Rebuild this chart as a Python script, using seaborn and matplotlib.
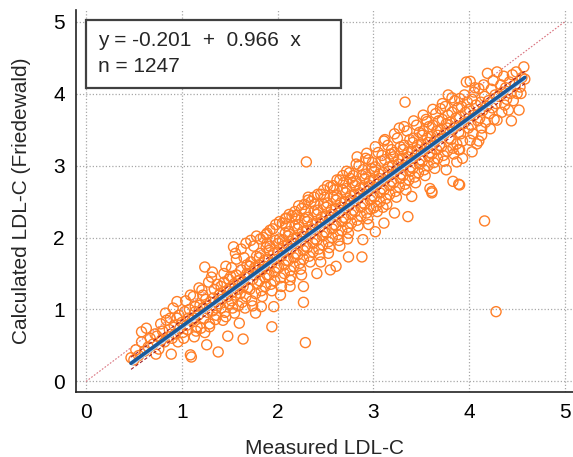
import matplotlib
matplotlib.use("Agg")
import matplotlib.pyplot as plt
import seaborn as sns
import numpy as np
import pandas as pd
from matplotlib.patches import Rectangle
from matplotlib.ticker import MultipleLocator

# ---- data ----
intercept = -0.201
slope = 0.966
n_label = 1247
ticks = [0, 1, 2, 3, 4, 5]
x_label = "Measured LDL-C"
y_label = "Calculated LDL-C (Friedewald)"

points_low = [
    (0.47,0.33),(0.50,0.30),(0.52,0.44),(0.55,0.36),(0.58,0.69),(0.58,0.55),(0.63,0.74),(0.61,0.42),(0.65,0.48),(0.67,0.60),
    (0.70,0.52),(0.72,0.66),(0.74,0.63),(0.76,0.45),(0.78,0.80),(0.73,0.38),(0.79,0.58),
    (0.80,0.70),(0.82,0.55),(0.84,0.85),(0.86,0.62),(0.88,0.88),(0.89,0.38),(0.83,0.95),(0.87,0.72),
    (0.90,0.60),(0.92,0.78),(0.95,1.11),(0.95,0.88),(0.93,0.66),(0.97,0.92),(0.98,0.74),(0.91,1.02),(0.96,0.55),
    (1.00,0.82),(1.03,0.97),(1.06,0.72),(1.01,0.68),(1.04,1.12),(1.07,0.88),(1.09,0.37),(1.02,0.60),(1.08,1.00),(1.05,0.78),(1.09,1.20),
    (1.10,0.34),(1.14,0.97),(1.13,0.62),(1.14,1.04),(1.11,0.85),(1.16,0.76),(1.12,1.18),(1.17,0.92),(1.18,1.30),(1.15,0.70),(1.19,1.06),(1.13,0.88),
    (1.24,1.59),(1.21,1.27),(1.26,0.51),(1.20,0.74),(1.22,1.02),(1.23,0.88),(1.25,1.14),(1.27,0.96),(1.28,1.38),(1.29,0.80),(1.22,1.20),(1.26,1.05),(1.24,0.68),
    (1.30,1.10),(1.29,0.76),(1.32,0.98),(1.34,1.28),(1.31,1.45),(1.35,0.86),(1.33,1.16),(1.36,1.02),(1.38,0.41),(1.37,1.35),(1.39,1.20),(1.36,0.92),(1.32,1.52),(1.38,1.08),
    (1.43,0.85),(1.48,0.63),(1.40,1.22),(1.41,1.02),(1.44,1.38),(1.42,1.14),(1.45,0.96),(1.46,1.60),(1.47,1.26),(1.49,1.08),(1.44,1.50),(1.48,1.18),(1.41,1.32),(1.46,0.90),(1.49,1.42),
]

points_mid = [
    (1.54,1.87),(1.50,1.30),(1.52,1.12),(1.51,1.46),(1.53,1.02),(1.55,1.36),(1.56,1.20),(1.57,1.70),(1.58,1.28),(1.59,1.05),(1.52,1.58),(1.55,0.95),(1.57,1.48),(1.59,1.40),(1.53,1.24),(1.56,1.78),
    (1.64,0.59),(1.60,0.81),(1.60,1.40),(1.61,1.22),(1.62,1.55),(1.63,1.10),(1.64,1.32),(1.65,1.72),(1.66,1.45),(1.67,1.18),(1.68,1.62),(1.69,1.30),(1.62,1.84),(1.66,1.02),(1.68,1.50),(1.63,1.38),(1.67,1.92),
    (1.70,1.50),(1.71,1.28),(1.72,1.66),(1.73,1.12),(1.74,1.42),(1.75,1.88),(1.76,1.58),(1.77,1.22),(1.78,1.74),(1.79,1.36),(1.72,1.96),(1.74,1.05),(1.76,1.48),(1.78,2.02),(1.71,1.60),(1.77,0.95),(1.79,1.54),
    (1.83,1.04),(1.80,1.62),(1.81,1.40),(1.82,1.78),(1.83,1.26),(1.84,1.55),(1.85,2.00),(1.86,1.68),(1.87,1.32),(1.88,1.86),(1.89,1.48),(1.82,1.98),(1.84,1.18),(1.86,1.60),(1.88,2.04),(1.81,1.72),(1.87,1.44),(1.89,1.92),
    (1.89,2.06),(1.94,0.76),(1.96,1.04),(1.90,1.70),(1.91,1.48),(1.92,1.88),(1.93,1.35),(1.94,1.64),(1.95,2.12),(1.96,1.78),(1.97,1.40),(1.98,1.96),(1.99,1.58),(1.92,2.10),(1.94,1.26),(1.96,1.70),(1.98,2.18),(1.91,1.82),(1.97,1.52),
    (2.00,1.80),(2.01,1.58),(2.02,1.98),(2.03,1.44),(2.04,1.74),(2.05,2.20),(2.06,1.88),(2.07,1.50),(2.08,2.06),(2.09,1.68),(2.02,2.22),(2.04,1.32),(2.06,1.80),(2.08,2.26),(2.01,1.92),(2.07,1.62),(2.09,2.16),(2.03,1.20),(2.05,1.96),
    (2.09,2.27),(2.13,1.32),(2.13,1.41),(2.10,1.90),(2.11,1.68),(2.12,2.08),(2.13,1.54),(2.14,1.84),(2.15,2.30),(2.16,1.98),(2.17,1.60),(2.18,2.16),(2.19,1.78),(2.12,2.32),(2.14,1.46),(2.16,1.92),(2.18,2.36),(2.11,2.02),(2.17,1.72),(2.19,2.26),
    (2.20,2.31),(2.20,2.00),(2.21,1.76),(2.22,2.18),(2.23,1.64),(2.24,1.94),(2.25,2.40),(2.26,2.08),(2.27,1.70),(2.28,2.26),(2.29,1.88),(2.22,2.44),(2.24,1.56),(2.26,2.02),(2.28,2.46),(2.21,2.12),(2.27,1.82),(2.29,2.36),(2.25,1.48),
    (2.30,3.05),(2.29,0.54),(2.27,1.10),(2.27,1.32),(2.32,2.56),(2.30,2.10),(2.31,1.86),(2.32,2.28),(2.33,1.74),(2.34,2.04),(2.35,2.50),(2.36,2.18),(2.37,1.80),(2.38,2.36),(2.39,1.98),(2.32,2.52),(2.34,1.66),(2.36,2.12),(2.38,2.56),(2.31,2.22),(2.37,1.92),(2.39,2.46),
    (2.41,1.50),(2.40,2.20),(2.41,1.96),(2.42,2.38),(2.43,1.84),(2.44,2.14),(2.45,2.60),(2.46,2.28),(2.47,1.90),(2.48,2.46),(2.49,2.08),(2.42,2.60),(2.44,1.76),(2.46,2.22),(2.48,2.66),(2.41,2.32),(2.47,2.02),(2.49,2.56),(2.45,1.66),
    (2.55,1.55),(2.58,2.72),(2.50,2.30),(2.51,2.06),(2.52,2.48),(2.53,1.94),(2.54,2.24),(2.55,2.70),(2.56,2.38),(2.57,2.00),(2.58,2.56),(2.59,2.18),(2.52,2.72),(2.54,1.86),(2.56,2.32),(2.51,2.42),(2.57,2.12),(2.59,2.66),(2.53,1.78),
    (2.61,1.60),(2.60,2.40),(2.61,2.16),(2.62,2.58),(2.63,2.04),(2.64,2.34),(2.65,2.80),(2.66,2.48),(2.67,2.10),(2.68,2.66),(2.69,2.28),(2.62,2.80),(2.64,1.96),(2.66,2.42),(2.68,2.86),(2.61,2.52),(2.67,2.22),(2.69,2.76),(2.65,1.88),
    (2.74,1.73),(2.76,2.82),(2.70,2.50),(2.71,2.26),(2.72,2.68),(2.73,2.14),(2.74,2.44),(2.75,2.90),(2.76,2.58),(2.77,2.20),(2.78,2.76),(2.79,2.38),(2.72,2.92),(2.74,2.06),(2.76,2.52),(2.71,2.62),(2.77,2.32),(2.79,2.86),(2.73,1.98),
    (2.83,3.12),(2.88,1.73),(2.89,1.97),(2.80,2.60),(2.81,2.36),(2.82,2.78),(2.83,2.24),(2.84,2.54),(2.85,3.00),(2.86,2.68),(2.87,2.30),(2.88,2.86),(2.89,2.48),(2.82,3.02),(2.84,2.16),(2.86,2.62),(2.81,2.72),(2.87,2.42),(2.89,2.94),
    (2.93,3.17),(2.90,2.70),(2.91,2.46),(2.92,2.88),(2.93,2.34),(2.94,2.64),(2.95,3.08),(2.96,2.78),(2.97,2.40),(2.98,2.96),(2.99,2.58),(2.92,3.10),(2.94,2.26),(2.96,2.72),(2.91,2.82),(2.97,2.52),(2.99,3.04),(2.95,2.18),
]

points_high = [
    (3.02,2.08),(3.00,2.41),(3.00,2.80),(3.01,2.56),(3.02,2.98),(3.03,2.44),(3.04,2.74),(3.05,3.18),(3.06,2.88),(3.07,2.50),(3.08,3.06),(3.09,2.68),(3.02,3.26),(3.04,2.36),(3.06,2.82),(3.01,2.92),(3.07,2.62),(3.09,3.14),
    (3.10,2.42),(3.11,2.20),(3.11,3.34),(3.10,2.90),(3.11,2.66),(3.12,3.08),(3.13,2.54),(3.14,2.84),(3.15,3.28),(3.16,2.98),(3.17,2.60),(3.18,3.16),(3.19,2.78),(3.12,3.36),(3.14,2.46),(3.16,2.92),(3.17,2.72),(3.19,3.22),
    (3.22,2.34),(3.27,3.52),(3.20,3.00),(3.21,2.76),(3.22,3.18),(3.23,2.64),(3.24,2.94),(3.25,3.38),(3.26,3.08),(3.27,2.70),(3.28,3.26),(3.29,2.88),(3.22,3.44),(3.24,2.56),(3.26,3.02),(3.21,3.12),(3.28,2.82),
    (3.33,3.88),(3.36,2.29),(3.30,3.10),(3.31,2.86),(3.32,3.28),(3.33,2.74),(3.34,3.04),(3.35,3.48),(3.36,3.18),(3.37,2.80),(3.38,3.36),(3.39,2.98),(3.32,3.54),(3.34,2.66),(3.36,3.12),(3.31,3.22),(3.38,2.92),
    (3.40,2.57),(3.40,3.20),(3.41,2.96),(3.42,3.38),(3.43,2.84),(3.44,3.14),(3.45,3.56),(3.46,3.28),(3.47,2.90),(3.48,3.46),(3.49,3.08),(3.42,3.62),(3.44,2.76),(3.46,3.22),(3.41,3.32),(3.48,3.02),
    (3.56,3.61),(3.50,3.30),(3.51,3.06),(3.52,3.48),(3.53,2.94),(3.54,3.24),(3.55,3.64),(3.56,3.38),(3.57,3.00),(3.58,3.54),(3.59,3.18),(3.52,3.70),(3.54,2.86),(3.57,3.32),(3.51,3.42),(3.58,3.12),
    (3.59,2.68),(3.61,2.62),(3.61,2.64),(3.60,3.40),(3.61,3.16),(3.62,3.56),(3.63,3.04),(3.64,3.34),(3.65,3.72),(3.66,3.48),(3.67,3.10),(3.68,3.62),(3.69,3.28),(3.62,3.78),(3.64,2.96),(3.67,3.42),(3.66,3.22),
    (3.70,3.79),(3.76,2.94),(3.70,3.50),(3.71,3.26),(3.72,3.64),(3.73,3.14),(3.74,3.44),(3.75,3.82),(3.76,3.58),(3.77,3.20),(3.78,3.70),(3.79,3.38),(3.72,3.86),(3.74,3.06),(3.77,3.52),(3.78,3.98),
    (3.83,2.78),(3.80,3.60),(3.81,3.36),(3.82,3.74),(3.83,3.24),(3.84,3.52),(3.85,3.90),(3.86,3.66),(3.87,3.30),(3.88,3.80),(3.89,3.46),(3.82,3.94),(3.84,3.16),(3.87,3.05),(3.89,3.22),
    (3.90,3.93),(3.90,2.73),(3.89,2.74),(3.90,3.22),(3.90,3.68),(3.91,3.44),(3.92,3.82),(3.93,3.34),(3.94,3.58),(3.95,3.98),(3.96,3.74),(3.97,4.16),(3.98,3.88),(3.99,3.52),(3.93,3.10),
    (4.01,4.17),(4.01,3.35),(4.03,3.19),(4.00,3.78),(4.02,3.56),(4.03,3.92),(4.04,3.44),(4.05,3.70),(4.06,4.08),(4.07,3.84),(4.08,3.30),(4.09,3.62),(4.05,4.02),
    (4.10,3.34),(4.10,4.07),(4.16,2.23),(4.11,3.66),(4.12,3.88),(4.13,3.52),(4.14,3.76),(4.15,4.12),(4.16,3.96),(4.17,3.60),(4.18,3.82),(4.19,4.28),(4.13,3.42),
    (4.22,3.51),(4.20,3.90),(4.21,3.72),(4.23,4.06),(4.24,3.80),(4.25,4.18),(4.26,3.64),(4.27,3.98),(4.28,0.97),(4.29,4.30),(4.29,3.63),(4.28,3.86),
    (4.31,3.96),(4.33,4.12),(4.34,3.74),(4.35,4.02),(4.36,4.24),(4.37,3.84),(4.38,4.08),(4.39,3.92),
    (4.41,3.77),(4.44,3.62),(4.42,4.16),(4.43,4.00),(4.45,4.26),(4.46,3.90),(4.48,4.12),(4.50,4.00),(4.49,4.30),
    (4.52,3.77),(4.53,4.09),(4.55,4.22),(4.57,4.37),(4.58,4.20),(4.54,4.00),
]

# regression band half-widths (confidence band and dashed limits)
band_half = 0.035
dash_half = 0.085

# ---- style ----
sns.set_style("white")
plt.rcParams['font.family'] = ['Liberation Sans', 'DejaVu Sans']

ORANGE = '#ff7f27'
BLUE = '#1b5a9b'

fig = plt.figure(figsize=(5.73, 4.57), dpi=100)
ax = fig.add_axes([76/573, 65/457, 497/573, 382/457])

df = pd.DataFrame(points_low + points_mid + points_high, columns=['measured', 'calculated'])

ax.set_xlim(-0.104, 5.083)
ax.set_ylim(-0.146, 5.16)

ax.grid(True, which='major', color='#a8a8a8', linestyle=(0, (1, 1.6)), linewidth=0.9)
ax.set_axisbelow(True)

# identity line
ident = pd.DataFrame({'x': [ticks[0], ticks[-1]], 'y': [ticks[0], ticks[-1]]})
sns.lineplot(data=ident, x='x', y='y', ax=ax, color='#d9727e', linewidth=0.8,
             linestyle=(0, (1.5, 1.5)), zorder=2)

sns.scatterplot(data=df, x='measured', y='calculated', ax=ax, marker='o', s=52,
                facecolor='none', edgecolor=ORANGE, linewidth=1.0, zorder=3)

xfit = np.linspace(df['measured'].min(), df['measured'].max(), 60)
yfit = intercept + slope * xfit
ax.fill_between(xfit, yfit - band_half, yfit + band_half, color='#b9d8f4', linewidth=0, zorder=4)
sns.lineplot(x=xfit, y=yfit + dash_half, ax=ax, color='#9e1f2c', linewidth=0.8,
             linestyle=(0, (3, 2)), zorder=5)
sns.lineplot(x=xfit, y=yfit - dash_half, ax=ax, color='#9e1f2c', linewidth=0.8,
             linestyle=(0, (3, 2)), zorder=5)
sns.lineplot(x=xfit, y=yfit, ax=ax, color=BLUE, linewidth=2.6, zorder=6)

# ticks and spines
ax.set_xticks(ticks)
ax.set_yticks(ticks)
ax.xaxis.set_minor_locator(MultipleLocator(0.5))
ax.yaxis.set_minor_locator(MultipleLocator(0.5))
ax.tick_params(which='both', direction='in', color='#6a6a6a', width=1.2,
               labelsize=15, labelcolor='black', pad=8)
ax.tick_params(which='major', length=7.2)
ax.tick_params(which='minor', length=3.6)
for side in ['top', 'right']:
    ax.spines[side].set_visible(False)
for side in ['left', 'bottom']:
    ax.spines[side].set_color('#222222')
    ax.spines[side].set_linewidth(1.2)

ax.set_xlabel(x_label, fontsize=15, labelpad=12)
ax.set_ylabel(y_label, fontsize=15, labelpad=16)

# equation box
box = Rectangle((0.0, 4.08), 2.66, 0.94, facecolor='white', edgecolor='#404040',
                linewidth=1.6, zorder=10)
ax.add_patch(box)
ax.text(0.125, 4.74, f"y = {intercept:.3f}  +  {slope:.3f}  x", fontsize=15,
        va='center', ha='left', zorder=11)
ax.text(0.125, 4.37, f"n = {n_label}", fontsize=15, va='center', ha='left', zorder=11)

fig.savefig('out.png', dpi=100)
